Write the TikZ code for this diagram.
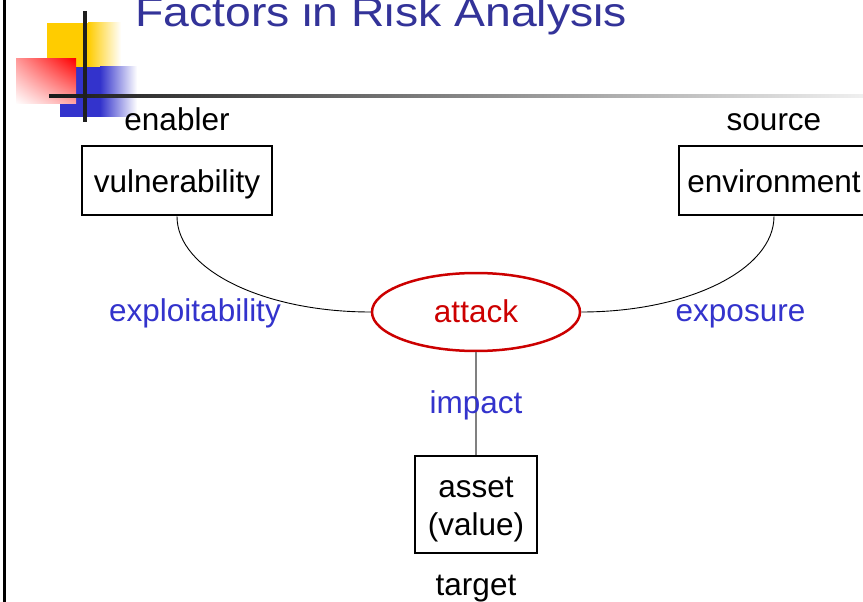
\documentclass[tikz,border=0pt]{standalone}
\usepackage{fontspec}
\setmainfont{Liberation Sans}
\usetikzlibrary{shapes.geometric,shadings}
\definecolor{titleblue}{HTML}{333399}
\definecolor{labelblue}{HTML}{3333CC}
\definecolor{attackred}{HTML}{CC0000}
\definecolor{decoyellow}{HTML}{FFCC00}
\definecolor{decoblue}{HTML}{3333CC}
\begin{document}
\begin{tikzpicture}[x=1pt,y=-1pt]
\tikzset{
  lbl/.style={font=\fontsize{31.5}{38}\selectfont, inner sep=0pt},
  boxnode/.style={draw, line width=2.7pt, lbl, text height=23pt, text depth=0pt},
  factor/.style={lbl, text=labelblue, anchor=base},
  conn/.style={line width=0.9pt, black}
}
\useasboundingbox (0,0) rectangle (863,602);
\clip (0,0) rectangle (863,602);
\fill[white] (0,0) rectangle (863,602);
% decoration
\fill[decoyellow] (47,23) rectangle (88,67);
\shade[left color=decoyellow, right color=white] (88,23) rectangle (121,67);
\fill[decoblue] (60,67) rectangle (100,117);
\shade[left color=decoblue, right color=white] (100,67) rectangle (137,117);
\shade[upper right=red, upper left=red!40!white, lower left=white, lower right=red!35!white] (16,59) rectangle (76,104);
\shade[left color=black!90, right color=black!6] (49,94.5) rectangle (863,97.5);
\draw[line width=3.5pt, black!88] (85,11) -- (85,122);
\draw[line width=2.5pt, black] (4.5,0) -- (4.5,602);
% title
\node[anchor=base west, text=titleblue, font=\fontsize{41}{48}\selectfont, inner sep=0pt] (title) at (135,27) {\scalebox{1.13}[1]{Factors in Risk Analysis}};
% nodes
\node[boxnode, minimum width=190pt, minimum height=69pt] (vuln) at (177,180.5) {vulnerability};
\node[boxnode, minimum width=190pt, minimum height=69pt] (env) at (774,180.5) {environment};
\node[ellipse, draw=attackred, line width=2.5pt, minimum width=208pt, minimum height=78pt, lbl, text=attackred, text height=20pt, text depth=0pt] (attack) at (476,312) {attack};
\node[draw, line width=2.7pt, minimum width=122pt, minimum height=97pt, lbl] (asset) at (476,504.5) {\raisebox{7.5pt}[0pt][0pt]{\begin{tabular}[t]{@{}c@{}}asset\\(value)\end{tabular}}};
% labels
\node[lbl, anchor=base] (enabler) at (177,130) {enabler};
\node[lbl, anchor=base] (source) at (774,130) {source};
\node[lbl, anchor=base] (target) at (476,595) {target};
% connectors
\draw[conn] (vuln.south) .. controls +(0,53.5) and +(-107,0) .. (attack.west);
\draw[conn] (env.south) .. controls +(0,53.5) and +(106.5,0) .. (attack.east);
\draw[line width=1.5pt, black!50] (attack.south) -- (asset.north);
\node[factor] (expl) at (195,321) {exploitability};
\node[factor] (expo) at (740.5,321) {exposure};
\node[factor] (impact) at (476,413) {impact};
\end{tikzpicture}
\end{document}
